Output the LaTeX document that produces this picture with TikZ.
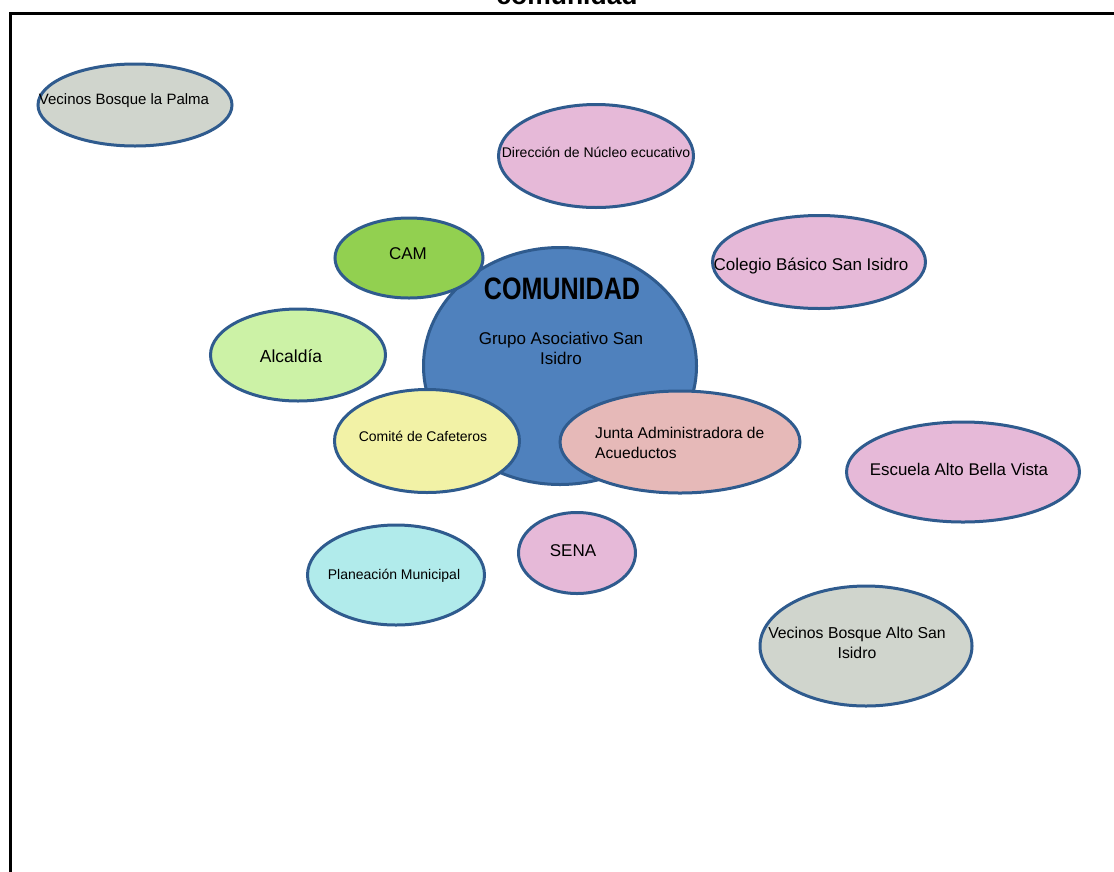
\documentclass[tikz,border=0pt]{standalone}
\usepackage{fontspec}
\setmainfont{Liberation Sans}
\usetikzlibrary{shapes.geometric}
\definecolor{edgeblue}{HTML}{2F5B8E}
\definecolor{mainblue}{HTML}{4F81BD}
\definecolor{graybg}{HTML}{D0D5CD}
\definecolor{pinkbg}{HTML}{E6B9D8}
\definecolor{rosebg}{HTML}{E6B9B8}
\definecolor{cambg}{HTML}{92D050}
\definecolor{alcbg}{HTML}{CCF2A6}
\definecolor{cafbg}{HTML}{F2F2A6}
\definecolor{planbg}{HTML}{B1EBEB}
\newcommand{\fsz}[1]{\fontsize{#1}{20}\selectfont}
\newcommand{\sqz}[2]{\scalebox{#1}[1]{#2}}
\tikzset{
  bubble/.style={ellipse, draw=edgeblue, line width=3pt, inner sep=0pt},
  lbl/.style={inner sep=0pt, text=black, align=center},
}
\begin{document}
\begin{tikzpicture}[x=1pt,y=-1pt]
\useasboundingbox (0,0) rectangle (1114,871);
% title (cut at top)
\node[lbl, anchor=base] (title) at (567,4) {\fsz{26.5}\bfseries comunidad};
% frame
\coordinate (fbl) at (10,875);
\coordinate (ftl) at (10,13);
\coordinate (ftr) at (1120,13);
\draw[line width=3pt] (fbl) -- (ftl) -- (ftr);
% ellipses
\node[bubble, fill=graybg, minimum width=194, minimum height=82] (palma) at (135,105) {};
\node[bubble, fill=pinkbg, minimum width=195, minimum height=103] (direc) at (596,156) {};
\node[bubble, fill=pinkbg, minimum width=213, minimum height=93] (colegio) at (819,262) {};
\node[bubble, fill=mainblue, minimum width=273, minimum height=237] (com) at (560,366) {};
\node[bubble, fill=cambg, minimum width=148, minimum height=80] (cam) at (409,258) {};
\node[bubble, fill=alcbg, minimum width=175, minimum height=92] (alc) at (298,355) {};
\node[bubble, fill=cafbg, minimum width=185, minimum height=103] (caf) at (427,441) {};
\node[bubble, fill=rosebg, minimum width=240, minimum height=102] (junta) at (680,442) {};
\node[bubble, fill=pinkbg, minimum width=233, minimum height=100] (escuela) at (963,472) {};
\node[bubble, fill=pinkbg, minimum width=117, minimum height=81] (sena) at (577,553) {};
\node[bubble, fill=planbg, minimum width=177, minimum height=100] (plan) at (396,575) {};
\node[bubble, fill=graybg, minimum width=212, minimum height=120] (altosi) at (866,646) {};
% texts
\node[lbl, font=\fsz{15}] (tpalma) at (124,101) {Vecinos Bosque la Palma};
\node[lbl, font=\fsz{14}] (tdirec) at (596,152) {Dirección de Núcleo ecucativo};
\node[lbl, font=\fsz{17}] (tcolegio) at (811,266) {Colegio Básico San Isidro};
\node[lbl] (tcom) at (562,289) {\sqz{0.81}{\fsz{31}\bfseries COMUNIDAD}};
\node[lbl, font=\fsz{17}] (tgrupo) at (561,348) {Grupo Asociativo San\\Isidro};
\node[lbl, font=\fsz{17}] (tcam) at (408,254) {CAM};
\node[lbl, font=\fsz{17.5}] (talc) at (291,356) {Alcaldía};
\node[lbl, font=\fsz{14}] (tcaf) at (423,436) {Comité de Cafeteros};
\node[lbl, align=left, anchor=west, font=\fsz{15.6}] (tjunta) at (595,443) {Junta Administradora de\\Acueductos};
\node[lbl, font=\fsz{16.9}] (tescuela) at (959,469) {Escuela Alto Bella Vista};
\node[lbl, font=\fsz{17}] (tsena) at (573,551) {SENA};
\node[lbl, font=\fsz{14}] (tplan) at (394,576) {Planeación Municipal};
\node[lbl, font=\fsz{15.8}] (taltosi) at (857,643) {Vecinos Bosque Alto San\\Isidro};
\end{tikzpicture}
\end{document}
